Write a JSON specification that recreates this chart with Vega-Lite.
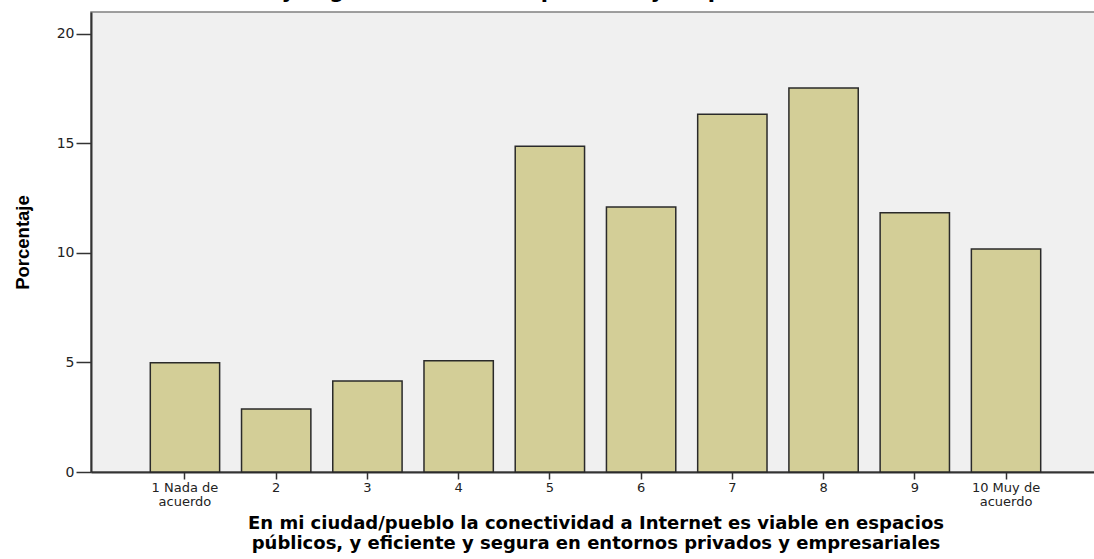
{
  "$schema": "https://vega.github.io/schema/vega-lite/v6.json",
  "autosize": "none",
  "width": 1009,
  "height": 460,
  "padding": {"left": 91, "top": 12, "right": 0, "bottom": 87},
  "background": "white",
  "config": {
    "view": {"fill": "#f0f0f0", "stroke": "#808080", "strokeWidth": 1.5}
  },
  "title": {
    "text": ["En mi ciudad/pueblo la conectividad a Internet es viable en espacios públicos, y", "eficiente y segura en entornos privados y empresariales"],
    "font": "DejaVu Sans",
    "fontWeight": "bold",
    "fontSize": 21,
    "lineHeight": 24,
    "color": "black",
    "anchor": "middle",
    "frame": "group",
    "dx": -90,
    "offset": -7,
    "baseline": "alphabetic"
  },
  "data": {
    "values": [
      {"cat": "1", "label": "1 Nada de|acuerdo", "pct": 4.99},
      {"cat": "2", "label": "2", "pct": 2.88},
      {"cat": "3", "label": "3", "pct": 4.16},
      {"cat": "4", "label": "4", "pct": 5.08},
      {"cat": "5", "label": "5", "pct": 14.87},
      {"cat": "6", "label": "6", "pct": 12.1},
      {"cat": "7", "label": "7", "pct": 16.33},
      {"cat": "8", "label": "8", "pct": 17.53},
      {"cat": "9", "label": "9", "pct": 11.84},
      {"cat": "10", "label": "10 Muy de|acuerdo", "pct": 10.18}
    ]
  },
  "mark": {"type": "bar", "fill": "#d3ce97", "stroke": "#2a2a2a", "strokeWidth": 1.5},
  "encoding": {
    "x": {
      "field": "label",
      "type": "nominal",
      "sort": null,
      "scale": {"paddingInner": 0.24, "paddingOuter": 0.65},
      "axis": {
        "title": ["En mi ciudad/pueblo la conectividad a Internet es viable en espacios", "públicos, y eficiente y segura en entornos privados y empresariales"],
        "titleFont": "DejaVu Sans",
        "titleFontWeight": "bold",
        "titleFontSize": 18,
        "titleLineHeight": 20,
        "titleColor": "black",
        "titlePadding": 6,
        "labelAngle": 0,
        "labelExpr": "split(datum.label, '|')",
        "labelFont": "DejaVu Sans",
        "labelFontSize": 13,
        "labelLineHeight": 14,
        "labelColor": "#222",
        "labelPadding": 2,
        "tickColor": "#333",
        "tickSize": 7,
        "tickWidth": 1.5,
        "domainColor": "#333",
        "domainWidth": 2,
        "labelBound": false,
        "labelOverlap": false
      }
    },
    "y": {
      "field": "pct",
      "type": "quantitative",
      "scale": {"domain": [0, 21], "nice": false},
      "axis": {
        "title": "Porcentaje",
        "titleFont": "Liberation Sans",
        "titleFontWeight": "bold",
        "titleFontSize": 18.5,
        "titleColor": "black",
        "titlePadding": 24,
        "values": [0, 5, 10, 15, 20],
        "grid": false,
        "labelFont": "DejaVu Sans",
        "labelFontSize": 14,
        "labelColor": "#222",
        "labelPadding": 2,
        "tickColor": "#333",
        "tickSize": 15,
        "tickWidth": 1.5,
        "domainColor": "#333",
        "domainWidth": 2
      }
    }
  }
}
